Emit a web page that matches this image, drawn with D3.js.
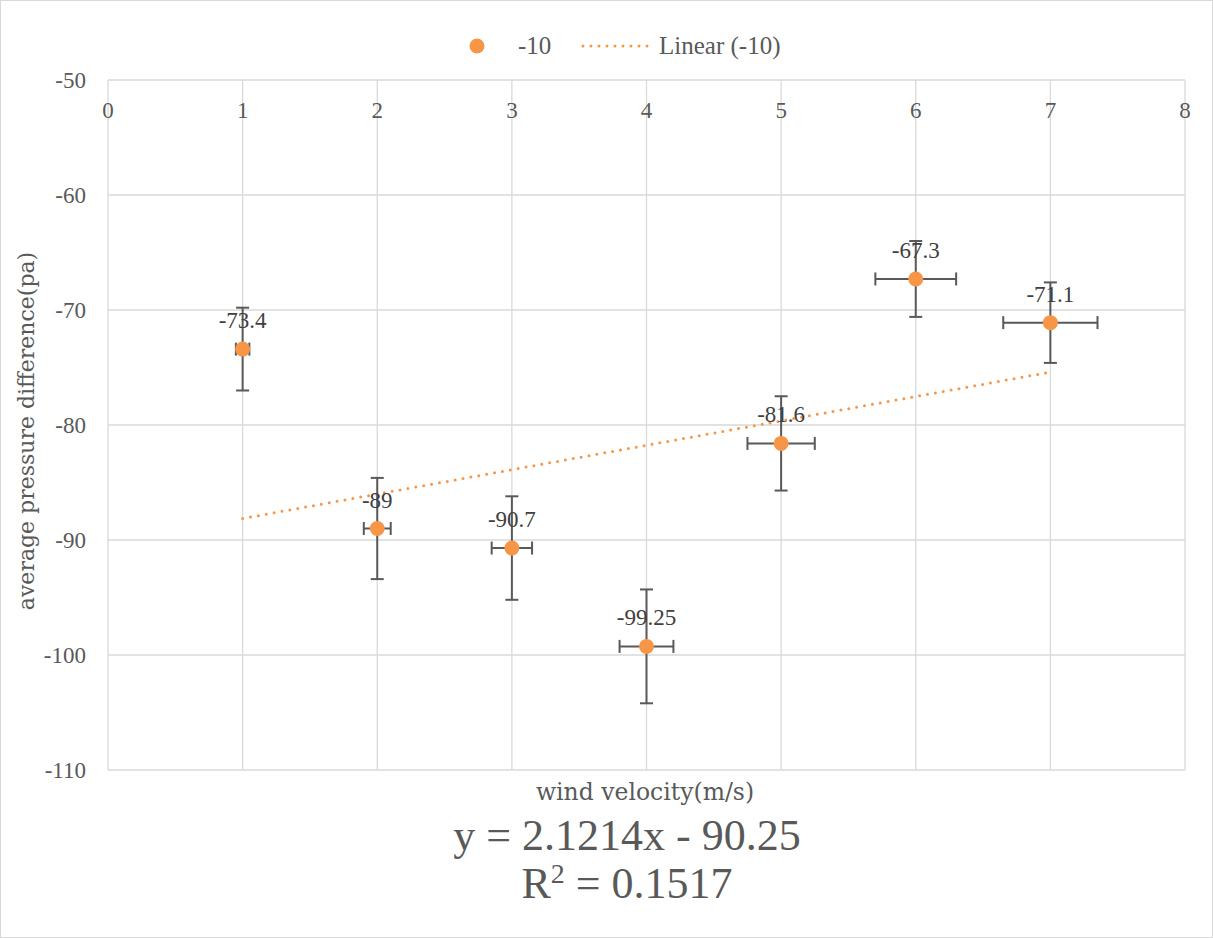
<!DOCTYPE html>
<html><head><meta charset="utf-8">
<script src="https://cdnjs.cloudflare.com/ajax/libs/d3/7.8.5/d3.min.js"></script>
<style>body{margin:0;background:#fff;}svg{display:block;}</style>
</head><body>
<script>
const xValues = [1, 2, 3, 4, 5, 6, 7];
const yValues = [-73.4, -89, -90.7, -99.25, -81.6, -67.3, -71.1];
const xErrors = [0.05, 0.1, 0.15, 0.2, 0.25, 0.3, 0.35];
const yErrors = [3.6, 4.4, 4.5, 4.95, 4.1, 3.3, 3.5];
const dataLabels = ["-73.4", "-89", "-90.7", "-99.25", "-81.6", "-67.3", "-71.1"];
const xTicks = [0, 1, 2, 3, 4, 5, 6, 7, 8];
const yTicks = [-50, -60, -70, -80, -90, -100, -110];
const seriesName = "-10";

const W = 1213, H = 938;
const serif = "'Liberation Serif', serif";
const wide = "'DejaVu Serif', serif";
const txt = "#595959";
const orange = "#F79646";
const svg = d3.select("body").append("svg").attr("width", W).attr("height", H)
  .style("font-family", serif);

svg.append("rect").attr("x", 0.5).attr("y", 0.5).attr("width", W - 1).attr("height", H - 1)
  .attr("fill", "#fff").attr("stroke", "#d9d9d9");

const x = d3.scaleLinear().domain([0, 8]).range([108, 1185]);
const y = d3.scaleLinear().domain([-110, -50]).range([770, 80]);

// gridlines
svg.append("g").selectAll("line").data(yTicks).join("line")
  .attr("x1", x(0)).attr("x2", x(8)).attr("y1", d => y(d)).attr("y2", d => y(d))
  .attr("stroke", "#d9d9d9").attr("stroke-width", 1.3);
svg.append("g").selectAll("line").data(xTicks).join("line")
  .attr("y1", y(-50)).attr("y2", y(-110)).attr("x1", d => x(d)).attr("x2", d => x(d))
  .attr("stroke", "#d9d9d9").attr("stroke-width", 1.3);

// y tick labels
svg.append("g").selectAll("text").data(yTicks).join("text")
  .attr("x", 86).attr("y", d => y(d)).attr("dy", "0.35em").attr("text-anchor", "end")
  .attr("fill", txt).attr("font-size", 23).text(d => d);
// x tick labels (axis at top)
svg.append("g").selectAll("text").data(xTicks).join("text")
  .attr("x", d => x(d)).attr("y", 118).attr("text-anchor", "middle")
  .attr("fill", txt).attr("font-size", 23).text(d => d);

// axis titles
svg.append("text").attr("transform", `translate(34,431) rotate(-90)`)
  .attr("text-anchor", "middle").attr("fill", txt).attr("font-size", 22)
  .style("font-family", wide).text("average pressure difference(pa)");
svg.append("text").attr("x", 645).attr("y", 800).attr("text-anchor", "middle")
  .attr("fill", txt).attr("font-size", 23.5).style("font-family", wide).text("wind velocity(m/s)");

// regression
const n = xValues.length;
const mx = d3.mean(xValues), my = d3.mean(yValues);
let sxy = 0, sxx = 0, syy = 0;
for (let i = 0; i < n; i++) { sxy += (xValues[i]-mx)*(yValues[i]-my); sxx += (xValues[i]-mx)**2; syy += (yValues[i]-my)**2; }
const slope = sxy / sxx, intercept = my - slope * mx;
const r2 = (sxy*sxy) / (sxx*syy);
const xMin = d3.min(xValues), xMax = d3.max(xValues);
svg.append("line")
  .attr("x1", x(xMin)).attr("y1", y(slope*xMin+intercept))
  .attr("x2", x(xMax)).attr("y2", y(slope*xMax+intercept))
  .attr("stroke", orange).attr("stroke-width", 3).attr("stroke-dasharray", "0 8")
  .attr("stroke-linecap", "round");

// equation
svg.append("text").attr("x", 627).attr("y", 850).attr("text-anchor", "middle")
  .attr("fill", txt).attr("font-size", 44)
  .text(`y = ${slope.toFixed(4)}x - ${Math.abs(intercept).toFixed(2)}`);
const r2t = svg.append("text").attr("x", 627).attr("y", 898).attr("text-anchor", "middle")
  .attr("fill", txt).attr("font-size", 44);
r2t.append("tspan").text("R");
r2t.append("tspan").attr("font-size", 28).attr("dy", -15).text("2");
r2t.append("tspan").attr("dy", 15).text(` = ${r2.toFixed(4)}`);

// error bars
const pts = xValues.map((v, i) => ({x: v, y: yValues[i], ex: xErrors[i], ey: yErrors[i], lab: dataLabels[i]}));
const eb = svg.append("g").attr("stroke", "#595959").attr("stroke-width", 2);
const cap = 6.5;
pts.forEach(p => {
  eb.append("line").attr("x1", x(p.x)).attr("x2", x(p.x)).attr("y1", y(p.y+p.ey)).attr("y2", y(p.y-p.ey));
  eb.append("line").attr("x1", x(p.x)-cap).attr("x2", x(p.x)+cap).attr("y1", y(p.y+p.ey)).attr("y2", y(p.y+p.ey));
  eb.append("line").attr("x1", x(p.x)-cap).attr("x2", x(p.x)+cap).attr("y1", y(p.y-p.ey)).attr("y2", y(p.y-p.ey));
  eb.append("line").attr("x1", x(p.x-p.ex)).attr("x2", x(p.x+p.ex)).attr("y1", y(p.y)).attr("y2", y(p.y));
  eb.append("line").attr("x1", x(p.x-p.ex)).attr("x2", x(p.x-p.ex)).attr("y1", y(p.y)-cap).attr("y2", y(p.y)+cap);
  eb.append("line").attr("x1", x(p.x+p.ex)).attr("x2", x(p.x+p.ex)).attr("y1", y(p.y)-cap).attr("y2", y(p.y)+cap);
});

// markers
svg.append("g").selectAll("circle").data(pts).join("circle")
  .attr("cx", d => x(d.x)).attr("cy", d => y(d.y)).attr("r", 7.5).attr("fill", orange);

// data labels
svg.append("g").selectAll("text").data(pts).join("text")
  .attr("x", d => x(d.x)).attr("y", d => y(d.y) - 21).attr("text-anchor", "middle")
  .attr("fill", "#404040").attr("font-size", 23).text(d => d.lab);

// legend
svg.append("circle").attr("cx", 477).attr("cy", 46).attr("r", 7.5).attr("fill", orange);
svg.append("text").attr("x", 518).attr("y", 54).attr("fill", txt).attr("font-size", 25).text(seriesName);
svg.append("line").attr("x1", 583).attr("x2", 652).attr("y1", 46).attr("y2", 46)
  .attr("stroke", orange).attr("stroke-width", 3).attr("stroke-dasharray", "0 8").attr("stroke-linecap", "round");
svg.append("text").attr("x", 659).attr("y", 54).attr("fill", txt).attr("font-size", 25).text(`Linear (${seriesName})`);
</script>
</body></html>
